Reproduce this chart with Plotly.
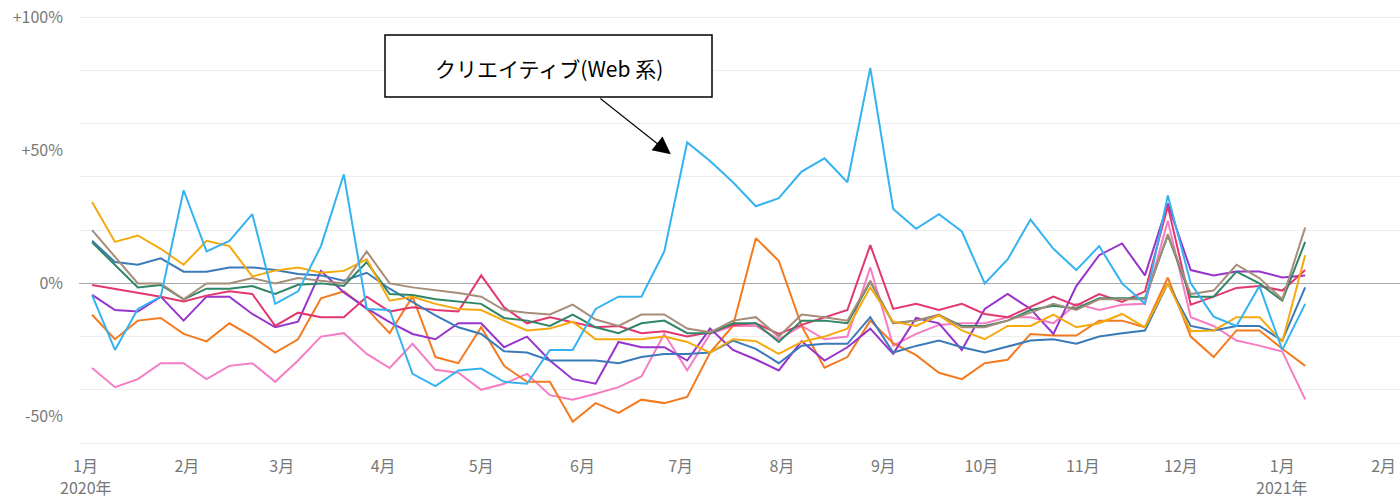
import pandas as pd
import plotly.graph_objects as go

# weekly points, 2020-01-03 .. 2021-01-08
weeks = pd.date_range("2020-01-03", periods=54, freq="7D")

creative_web = [-4.4, -25, -9.6, -5, 35, 12, 16, 26, -7.7, -3, 14, 41, -9.6, -10, -34, -38.6, -32.7, -32,
                -37, -37.7, -25, -25, -9.6, -5, -5, 12, 53, 46, 38, 29, 32, 42, 47, 38, 81, 28, 20.5, 26,
                19.5, 0, 9, 24, 13, 5, 14, 0, -7.7, 33, 0, -12.5, -16, -1, -25, -7.7]
amber = [30.6, 15.6, 18, 13, 7, 16, 14, 2.6, 4.8, 6, 4, 4.7, 9, -6.5, -5, -7.7, -9.6, -10, -14, -17.7,
         -17, -14.4, -21, -21, -21, -20, -22, -26, -21, -21.7, -26.5, -22, -20, -17, -1.5, -14.4, -16, -12,
         -17.7, -21, -16, -16, -11.7, -16.5, -15, -11.5, -16.5, 0, -18, -17.7, -12.7, -12.7, -22, 10.6]
brown = [20, 10, 0, 0, -6, 0, 0, 2, 0, 2, 1, 0, 12, 0, -1.5, -2.5, -3.6, -5, -10, -11, -11.7, -8, -13.6,
         -16, -11.7, -11.7, -17, -18.4, -14, -12.7, -20, -11.7, -12.7, -14, 1, -15, -14, -11.7, -16.5,
         -16.5, -14, -11, -7.7, -10, -6, -6, -6, 18.5, -4, -2.7, 7, 2, -6, 21]
green = [15.4, 7, -1.5, -0.6, -6, -2, -2, -1, -4, -0.5, 0, -1, 8, -4, -4.4, -6, -6.8, -7.7, -13, -14, -16,
         -11.7, -16.5, -18.7, -15, -14, -18.7, -18.7, -15, -15, -22, -14, -14, -15, 0.6, -15, -14, -12,
         -16, -16, -14, -10, -8.4, -9.4, -5.6, -5.6, -5.6, 18, -5, -5, 4.4, 0, -6.5, 15.6]
steel = [16, 8, 7, 9.4, 4.4, 4.4, 6, 6, 5, 3.5, 3, 1, 4, -2, -7, -12, -16.5, -19, -25.5, -26, -29, -29,
         -29, -30, -27.7, -26.5, -26.5, -26, -21.5, -24.6, -30, -23.4, -22.7, -22.7, -12.7, -26, -23.5,
         -21.5, -24, -26, -23.7, -21.5, -21, -22.7, -20, -18.7, -17.7, 0, -16, -17.7, -16, -16, -21.5, -1.5]
crimson = [-0.6, -2, -3.4, -5, -6.8, -4.6, -3, -4, -16, -11, -12.7, -12.7, -5, -10.6, -9, -10, -10.6, 3,
           -9, -15, -12.7, -14.6, -16.5, -16, -18.7, -18, -20, -18.4, -15.6, -15, -19, -15.6, -12.7, -10,
           14.4, -9.6, -7.7, -10, -7.7, -11.5, -12.7, -9, -5, -8.4, -4, -7, -3, 29, -8, -5, -1.7, -1, -2.7, 5]
purple = [-4.3, -10, -10.6, -5, -14, -5, -5, -11.5, -16.5, -14.4, 4.7, -3.4, -9.4, -14.6, -19, -21, -15,
          -15, -24, -20, -29, -36, -37.7, -22, -24, -24, -29, -17, -25, -28.6, -32.7, -21.7, -29, -24, -17,
          -26.5, -13, -15, -25, -9.6, -4, -9.6, -19, -1, 10.6, 15, 3, 30, 5, 3, 4.5, 4.5, 2.2, 3]
orange = [-11.8, -21, -14, -13, -19, -21.8, -15, -20, -26, -21, -5.6, -3, -9.6, -18.7, -5, -27.7, -30,
          -16.5, -31, -37, -37, -52, -45, -48.7, -43.7, -45, -42.7, -26, -16, 17, 8.5, -16, -31.7, -27.7,
          -14, -22.5, -27, -33.6, -36, -30, -28.7, -19, -19.6, -19.6, -14, -14, -16.5, 2.2, -20, -27.7,
          -17.7, -17.7, -24.6, -31]
pink = [-31.8, -39, -36, -30, -30, -36, -31, -30, -37, -29, -20, -18.7, -26.5, -31.8, -22.7, -32.5, -33.6,
        -40, -37.7, -34, -42, -43.7, -41.5, -39, -35, -19, -32.7, -19, -16, -16, -21, -16, -21, -20, 6,
        -23.4, -19, -15.6, -15, -15, -12.7, -12.7, -15, -7.7, -10, -8, -7.7, 23.5, -12.7, -16, -21.5,
        -23.4, -25.6, -43.6]

series = [
    ("pink", pink, "#F57DC3"),
    ("orange", orange, "#F47A1F"),
    ("purple", purple, "#9833CC"),
    ("crimson", crimson, "#E2376F"),
    ("steel", steel, "#3B7AB8"),
    ("green", green, "#2F8566"),
    ("brown", brown, "#A58D78"),
    ("amber", amber, "#F5A90A"),
    ("クリエイティブ(Web系)", creative_web, "#35B2F0"),
]

month_ticks = pd.date_range("2020-01-01", "2021-02-01", freq="MS")
month_text = ["%d月" % d.month for d in month_ticks]
year_labels = [("2020-01-01", "2020年"), ("2021-01-01", "2021年")]

W, H = 1400, 502
L, R, T, B = 79, 0, 12, 51

fig = go.Figure()
for name, values, color in series:
    fig.add_trace(go.Scatter(
        x=weeks, y=values, name=name, mode="lines",
        line=dict(color=color, width=2),
    ))

fig.update_layout(
    width=W, height=H,
    margin=dict(l=L, r=R, t=T, b=B),
    plot_bgcolor="white",
    paper_bgcolor="white",
    showlegend=False,
    font=dict(family="Noto Sans CJK JP, Noto Sans, sans-serif", color="#777777", size=16),
)
fig.update_xaxes(
    range=["2019-12-30", "2021-02-06"],
    tickvals=month_ticks, ticktext=month_text,
    showgrid=False, zeroline=False, showline=False,
    automargin=False, ticklabelstandoff=4,
    tickfont=dict(size=16, color="#777777"),
)
fig.update_yaxes(
    range=[-63, 102],
    tickvals=[-50, 0, 50, 100], ticktext=["-50%", "0%", "+50%", "+100%"],
    showgrid=False,
    zeroline=True, zerolinecolor="#AAAAAA", zerolinewidth=1.2,
    minor=dict(dtick=20, tick0=0, showgrid=True, gridcolor="#EDEDED", gridwidth=1),
    ticklabelstandoff=15, ticklabeloverflow="allow",
    automargin=False,
    tickfont=dict(size=16, color="#777777"),
)

# helpers: window pixels -> paper coords
pw, ph = W - L - R, H - T - B
def px(x):
    return (x - L) / pw
def py(y):
    return 1 - (y - T) / ph

for d, txt in year_labels:
    fig.add_annotation(x=d, xref="x", yref="paper", y=py(501),
                       xanchor="center", yanchor="bottom", showarrow=False,
                       text=txt, font=dict(size=16, color="#777777"))

fig.add_shape(type="rect", xref="paper", yref="paper",
              x0=px(385), x1=px(712), y0=py(97), y1=py(35),
              line=dict(color="black", width=1.5), fillcolor="white")
fig.add_annotation(xref="paper", yref="paper", x=px(549), y=py(68),
                   xanchor="center", yanchor="middle",
                   text="クリエイティブ(Web 系)", showarrow=False,
                   font=dict(family="Noto Sans CJK JP", size=21, color="black"))
fig.add_annotation(x="2020-06-28", y=48.5, text="", showarrow=True,
                   ax=-72, ay=-57, arrowhead=2, arrowsize=3.2, arrowwidth=1.1,
                   arrowcolor="black")

# drop the default body margin so the figure fills the window
fig.write_html("out.html", config={"displayModeBar": False},
               post_script="document.body.style.margin='0';")
